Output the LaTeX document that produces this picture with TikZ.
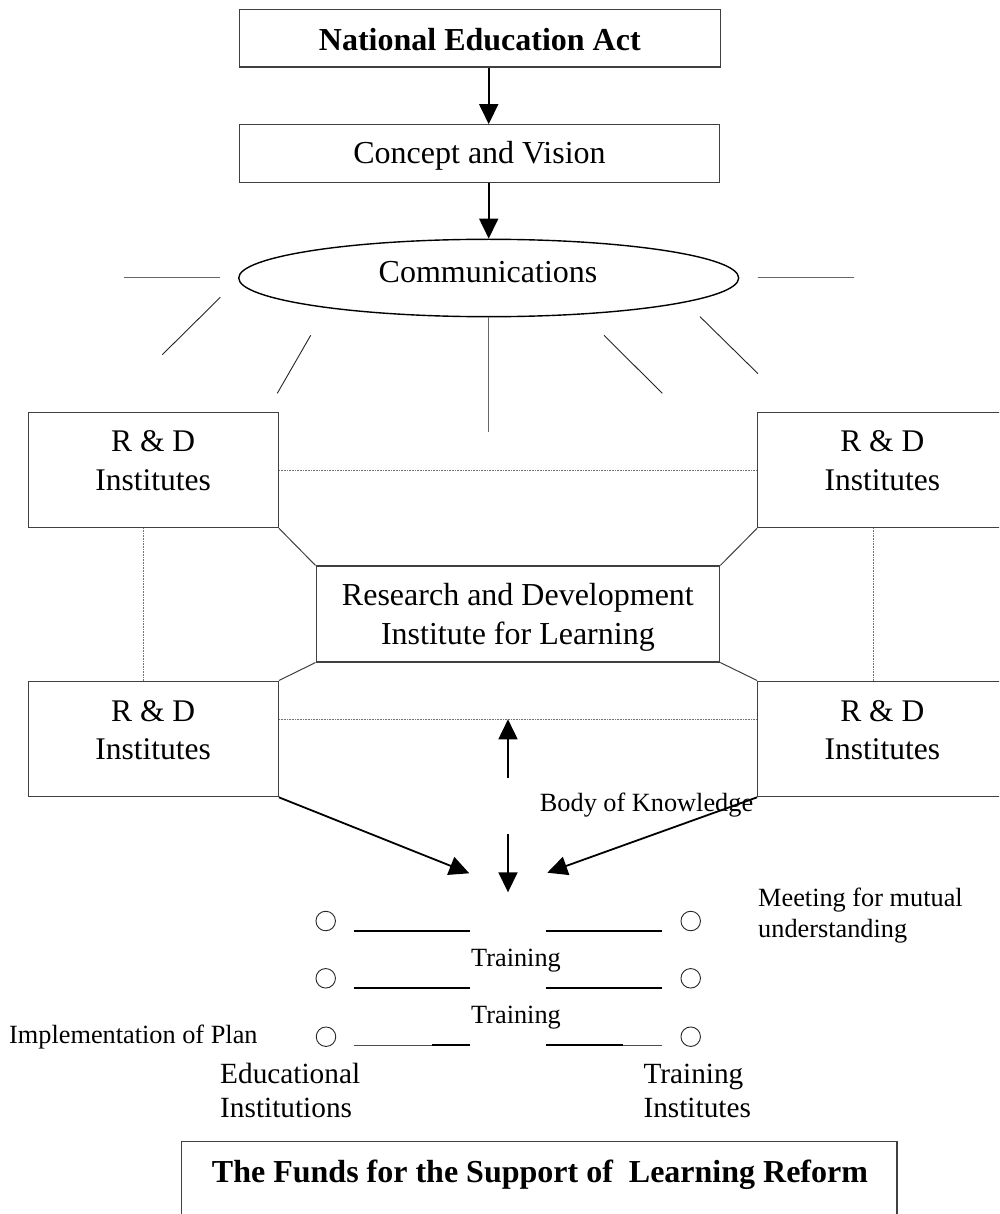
\documentclass[tikz,border=0pt]{standalone}
\usepackage{fontspec}
\setmainfont{Liberation Serif}
\usetikzlibrary{arrows.meta,calc,shapes.geometric}
\begin{document}
\begin{tikzpicture}[x=1pt,y=-1pt,
  boxst/.style={draw=black!75, line width=1.1pt, inner sep=0pt},
  big/.style={font=\fontsize{32}{38}\selectfont},
  bigb/.style={font=\fontsize{32}{38}\selectfont\bfseries},
  rdf/.style={font=\fontsize{31.5}{38}\selectfont},
  midf/.style={font=\fontsize{29.3}{34}\selectfont},
  smallf/.style={font=\fontsize{26.3}{31}\selectfont},
  txt/.style={inner sep=0pt, anchor=base},
  txtl/.style={inner sep=0pt, anchor=base west},
  arr/.style={-{Triangle[length=20pt,width=19pt]}, line width=1.8pt},
  ray/.style={line width=0.9pt, black!85},
  grayray/.style={line width=1.3pt, black!60},
  dotl/.style={line width=0.9pt, black!55, dash pattern=on 0.9pt off 0.7pt},
  conn/.style={line width=1pt, black!75},
  ring/.style={circle, draw=black!85, line width=0.9pt, minimum size=19.5pt, inner sep=0pt},
  bar/.style={line width=2pt},
  thinbar/.style={line width=1pt, black!70}
]
\useasboundingbox (0,0) rectangle (999,1214);
\fill[white] (0,0) rectangle (999,1214);
\clip (0,0) rectangle (999,1214);

% top boxes
\node[boxst, minimum width=481pt, minimum height=57.7pt] (act) at (479.8,38.2) {};
\node[txt,bigb] (actT) at (479.8,50.7) {National Education Act};
\node[boxst, minimum width=480.4pt, minimum height=57.6pt] (cv) at (479.5,153.5) {};
\node[txt,big] (cvT) at (479.5,163.5) {Concept and Vision};

% communications ellipse
\node[draw, ellipse, line width=1.4pt, minimum width=500pt, minimum height=77.4pt, inner sep=0pt] (comm) at (488.7,278) {};
\node[txt,big] (commT) at (488,282.7) {Communications};

\draw[arr] (act.south -| comm.center) -- (cv.north -| comm.center);
\draw[arr] (cv.south -| comm.center) -- (comm.north);

% rays
\draw[grayray] (124,277.7) -- (220.3,277.7);
\draw[grayray] (757.7,277.7) -- (854,277.7);
\draw[ray] (220.3,297.3) -- (162.3,354.7);
\draw[ray] (310.7,335.3) -- (277.3,393.3);
\draw[ray] (604,335.3) -- (662.3,393.3);
\draw[ray] (700,316.7) -- (758,373.7);
\draw[grayray, line width=1.1pt] (comm.south) -- ++(0,115);

% R&D boxes
\node[boxst, minimum width=250.3pt, minimum height=115.4pt] (rdTL) at (153.2,470) {};
\node[boxst, minimum width=250.3pt, minimum height=115.4pt] (rdTR) at (882.8,470) {};
\node[boxst, minimum width=250.3pt, minimum height=115.7pt] (rdBL) at (153.2,738.9) {};
\node[boxst, minimum width=250.3pt, minimum height=115.7pt] (rdBR) at (882.8,738.9) {};
\node[txt,rdf] (tl1) at (153.2,451.7) {R \& D};
\node[txt,rdf] (tl2) at (153.2,490) {Institutes};
\node[txt,rdf] (tr1) at (882.3,451.7) {R \& D};
\node[txt,rdf] (tr2) at (882.3,490) {Institutes};
\node[txt,rdf] (bl1) at (153.2,721.2) {R \& D};
\node[txt,rdf] (bl2) at (153.2,759.3) {Institutes};
\node[txt,rdf] (br1) at (882.3,721.2) {R \& D};
\node[txt,rdf] (br2) at (882.3,759.3) {Institutes};

% central institute
\node[boxst, minimum width=403.7pt, minimum height=96pt] (rdil) at (517.9,614) {};
\node[txt,big] (rdil1) at (517.9,605.5) {Research and Development};
\node[txt,big] (rdil2) at (517.9,644) {Institute for Learning};

\draw[conn] (rdTL.south east) -- (rdil.north west);
\draw[conn] (rdTR.south west) -- (rdil.north east);
\draw[conn] (rdil.south west) -- (rdBL.north east);
\draw[conn] (rdil.south east) -- (rdBR.north west);

% dotted links
\coordinate (dlow) at (0,719.3);
\coordinate (vl) at (143.3,0);
\coordinate (vr) at (873,0);
\draw[dotl] (rdTL.east) -- (rdTR.west);
\draw[dotl] (rdBL.east |- dlow) -- (rdBR.west |- dlow);
\draw[dotl] (rdTL.south -| vl) -- (rdBL.north -| vl);
\draw[dotl] (rdTR.south -| vr) -- (rdBR.north -| vr);

% body of knowledge arrows
\coordinate (upS) at (508,777.7);
\coordinate (dnS) at (508,834.3);
\coordinate (dnE) at (508,892.3);
\coordinate (tipL) at (469.3,873.3);
\coordinate (tipR) at (547.3,872.7);
\draw[arr] (upS) -- (upS |- dlow);
\draw[arr] (dnS) -- (dnE);
\draw[arr] (rdBL.south east) -- (tipL);
\draw[arr] (rdBR.south west) -- (tipR);
\node[txtl,smallf] (bok) at (539.7,811.7) {Body of Knowledge};

% meeting rows
\node[ring] (cl1) at (325.7,921) {};
\node[ring] (cl2) at (325.7,978.3) {};
\node[ring] (cl3) at (326,1036.7) {};
\node[ring] (cr1) at (690.7,921) {};
\node[ring] (cr2) at (690.7,978.3) {};
\node[ring] (cr3) at (690.7,1036.7) {};

\draw[bar] (354,930.7) -- (470,930.7);
\draw[bar] (546.3,930.7) -- (662.3,930.7);
\draw[bar] (354,987.7) -- (470,987.7);
\draw[bar] (546.3,987.7) -- (662.3,987.7);
\draw[thinbar] (354,1045) -- (432.3,1045);
\draw[bar] (432.3,1045) -- (470,1045);
\draw[bar] (546,1045) -- (622.7,1045);
\draw[thinbar] (622.7,1045) -- (662.3,1045);

\node[txt,smallf] (tr1l) at (516,966.5) {Training};
\node[txt,smallf] (tr2l) at (516,1023.3) {Training};
\node[txtl,smallf] (meet1) at (758,906.7) {Meeting for mutual};
\node[txtl,smallf] (meet2) at (758,937.3) {understanding};
\node[txtl,smallf] (impl) at (9,1043) {Implementation of Plan};
\node[txtl,midf] (edu1) at (220,1083.3) {Educational};
\node[txtl,midf] (edu2) at (220,1117.7) {Institutions};
\node[txtl,midf] (ti1) at (643.3,1083.3) {Training};
\node[txtl,midf] (ti2) at (643.3,1117.7) {Institutes};

% funds box
\node[boxst, minimum width=715.4pt, minimum height=120pt] (funds) at (539.3,1201.7) {};
\node[txt,bigb] (fundsT) at (540,1182.3) {The Funds for the Support of\ \ Learning Reform};
\end{tikzpicture}
\end{document}
